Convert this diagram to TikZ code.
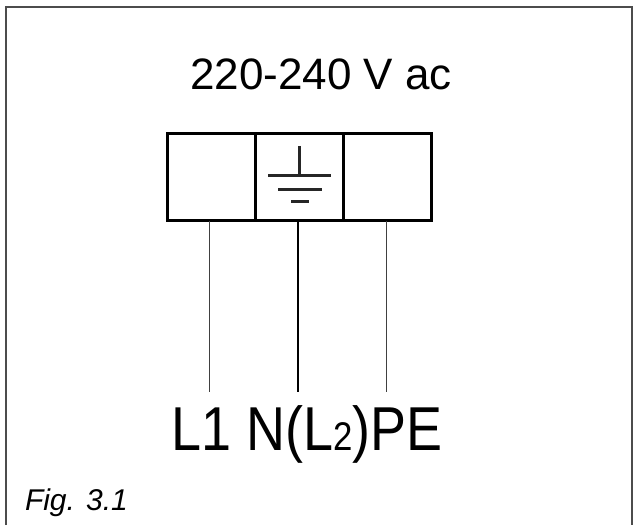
\documentclass[tikz,border=0pt]{standalone}
\usepackage{fontspec}
\setmainfont{Liberation Sans}
\usetikzlibrary{positioning}

\begin{document}
\begin{tikzpicture}
    [
        x=1pt, y=1pt, inner sep=0pt, outer sep=0pt,
        term_node/.style={rectangle, draw=black, line width=3pt, minimum width=88pt, minimum height=87pt},
        thin_wire/.style={line width=1pt, color=black!75},
        thick_wire/.style={line width=2.5pt, color=black},
        earth_line/.style={line width=3pt, color=black!85},
    ]
        \useasboundingbox (0,0) rectangle (637,525);
        \draw[line width=1.5pt, color=black!70] (6,0) -- (6,518) -- (632,518) -- (632,0);
        \node[anchor=base] (volt) at (321,435) {\fontsize{44}{44}\selectfont 220-240 V ac};
        \node[term_node] (tN) at (299,347.5) {};
        \node[term_node] (tL) [left=0pt of tN] {};
        \node[term_node] (tPE) [right=0pt of tN] {};
        % earth symbol
        \draw[earth_line] (299,379) -- (299,349);
        \draw[earth_line] (268,349) -- (331,349);
        \draw[earth_line] (278,335) -- (322,335);
        \draw[earth_line] (291,323) -- (309,323);
        % wires
        \coordinate (eL) at (209,133);
        \coordinate (eN) at (298,133);
        \coordinate (ePE) at (386,133);
        \draw[thin_wire] (tL.south -| eL) -- (eL);
        \draw[thick_wire] (tN.south -| eN) -- (eN);
        \draw[thin_wire] (tPE.south -| ePE) -- (ePE);
        \node[anchor=base] (lab) at (307,75) {\fontsize{62}{62}\selectfont\addfontfeatures{FakeStretch=0.87}L1 N(L{\fontsize{40}{40}\selectfont 2})PE};
        \node[anchor=base west] (fig) at (25,15) {\fontsize{30}{30}\selectfont\itshape Fig. 3.1};
    \end{tikzpicture}
\end{document}
